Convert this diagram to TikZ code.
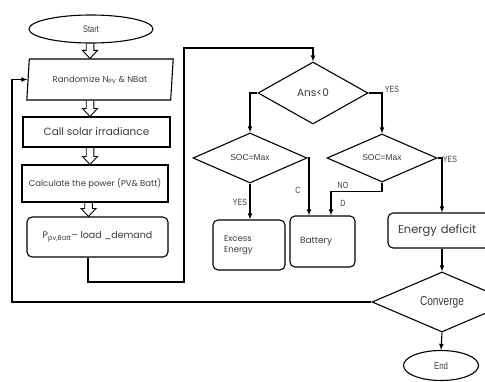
\documentclass[tikz,border=0pt]{standalone}
\usepackage{fontspec}
\setmainfont{Poppins}
\newfontfamily\narrowfont[FakeStretch=0.78]{Liberation Sans}
\newfontfamily\plainsans{Liberation Sans}
\usetikzlibrary{shapes.geometric,calc}
\definecolor{colortext}{HTML}{3A3A3A}
\tikzset{
  boxproc/.style={draw, line width=1.1pt, rectangle, inner sep=1pt, text=colortext},
  boxsoft/.style={boxproc, rounded corners=5pt},
  boxrand/.style={boxproc, trapezium, trapezium left angle=80, trapezium right angle=100, trapezium stretches=true},
  decis/.style={draw, line width=1.1pt, diamond, inner sep=0pt, text=colortext},
  termin/.style={draw, line width=1.1pt, ellipse, inner sep=0pt, text=colortext},
  edgeflow/.style={line width=1.1pt, -latex},
  edgehollow/.style={line width=0.9pt, line join=miter, to path={let \p1=(\tikztostart), \p2=(\tikztotarget) in
    (\x1-3.8pt,\y1) -- (\x1-3.8pt,\y2+8pt) -- (\x1-7.5pt,\y2+8pt) -- (\x1,\y2) -- (\x1+7.5pt,\y2+8pt) -- (\x1+3.8pt,\y2+8pt) -- (\x1+3.8pt,\y1)}},
  lbl/.style={inner sep=1pt, text=colortext, font=\narrowfont\fontsize{9}{10}\selectfont}
}

\begin{document}
\begin{tikzpicture}[x=1pt, y=-1pt]
\useasboundingbox (0,0) rectangle (485,381);
\clip (0,0) rectangle (485,381);
% left column
\node[termin, minimum width=124pt, minimum height=28pt, font=\narrowfont\fontsize{9.5}{10}\selectfont] (start) at (91,29) {Start};
\node[boxrand, minimum width=148pt, minimum height=41pt, font=\fontsize{8.5}{10}\selectfont] (rand) at (100,79.5) {Randomize N\textsubscript{PV} \& NBat};
\node[boxproc, minimum width=147pt, minimum height=30pt, font=\fontsize{10.5}{12}\selectfont] (call) at (96.5,132) {Call solar irradiance};
\node[boxproc, minimum width=146pt, minimum height=37pt, font=\fontsize{8.5}{10}\selectfont] (calc) at (95,183.5) {Calculate the power (PV\& Batt)};
\node[boxsoft, minimum width=141pt, minimum height=40pt, font=\fontsize{9.5}{11}\selectfont] (pdem) at (97.5,237) {P\textsubscript{pv,Batt}-- load \_demand};
% decisions
\node[decis, minimum width=110pt, minimum height=62pt, font=\fontsize{10.5}{12}\selectfont] (ans) at (313,93) {Ans<0};
\node[decis, minimum width=114pt, minimum height=50pt, font=\plainsans\fontsize{8.5}{10}\selectfont] (soc1) at (250,158) {SOC=Max};
\node[decis, minimum width=110pt, minimum height=48pt, font=\plainsans\fontsize{8.5}{10}\selectfont] (soc2) at (382,158) {SOC=Max};
% outcomes
\node[boxsoft, minimum width=72pt, minimum height=50pt, text width=50pt, align=left, font=\fontsize{8.5}{11}\selectfont] (exc) at (249,245) {Excess\\Energy};
\node[boxsoft, minimum width=65pt, minimum height=51pt, text width=45pt, align=left, font=\fontsize{9}{11}\selectfont] (bat) at (322.5,241.5) {Battery};
\node[boxsoft, minimum width=108pt, minimum height=35pt, text width=88pt, align=left, font=\fontsize{11.5}{13}\selectfont] (def) at (442,230.5) {Energy deficit};
\node[decis, minimum width=140pt, minimum height=60pt, font=\narrowfont\fontsize{13}{14}\selectfont] (conv) at (442,302) {Converge};
\node[termin, minimum width=75pt, minimum height=30pt, font=\narrowfont\fontsize{10}{11}\selectfont] (end) at (441,365.5) {End};
% labels
\node[lbl] (yesa) at (392,89) {YES};
\node[lbl] (yesb) at (240,202) {YES};
\node[lbl] (lblc) at (298,190) {C};
\node[lbl] (lblno) at (343,185) {NO};
\node[lbl] (lbld) at (343,203) {D};
\node[lbl] (yesc) at (450,159) {YES};
% flow
\coordinate (bend1) at (184,282);
\coordinate (bend2) at (184,48);
\coordinate (fbk) at (12,0);
\draw[edgehollow] ([xshift=-1pt]start.south) to ([xshift=-1pt]start.south |- rand.north);
\draw[edgehollow] ([xshift=-10pt]rand.south) to ([xshift=-10pt]rand.south |- call.north);
\draw[edgehollow] ([xshift=-6.5pt]call.south) to ([xshift=-6.5pt]call.south |- calc.north);
\draw[edgehollow] ([xshift=-6.5pt]calc.south) to ([xshift=-6.5pt]calc.south |- pdem.north);
\draw[edgeflow] ([xshift=-9.5pt]pdem.south) |- (bend1) -- (bend2) -| (ans.north);
\draw[edgeflow] (ans.west) -| (soc1.north);
\draw[edgeflow] (ans.east) -| (soc2.north);
\draw[edgeflow] (soc1.south) -- (soc1.south |- exc.north);
\draw[edgeflow] (soc1.east) -| ([xshift=-13.5pt]bat.north);
\draw[edgeflow] (soc2.south) -- ++(0,9) -| ([xshift=8.5pt]bat.north);
\draw[edgeflow] (soc2.east) -| (def.north);
\draw[edgeflow] (def.south) -- (conv.north);
\draw[edgeflow] (conv.south) -- (end.north);
\draw[edgeflow] (conv.west) -| (fbk |- rand.west) -- (rand.west);
\end{tikzpicture}
\end{document}
